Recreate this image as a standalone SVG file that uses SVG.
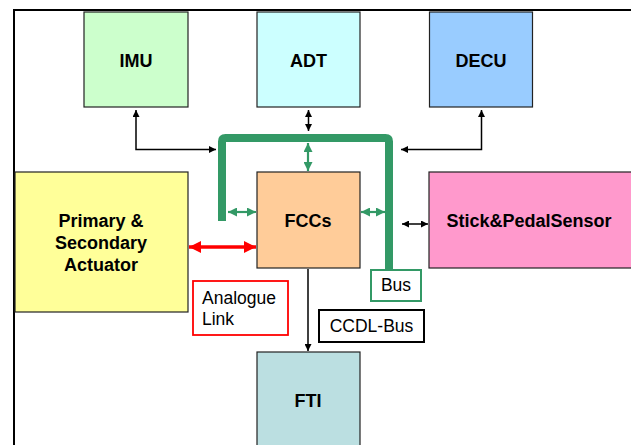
<svg xmlns="http://www.w3.org/2000/svg" width="631" height="445" viewBox="0 0 631 445">
<style>
.box{stroke:#222;stroke-width:1.2}
.lbl{font-family:"Liberation Sans",Arial,sans-serif;font-size:18px;font-weight:bold;fill:#000;text-anchor:middle}
.note{font-family:"Liberation Sans",Arial,sans-serif;font-size:17.5px;fill:#000}
.blk{stroke:#000;stroke-width:1.5;fill:none}
.grn{stroke:#339966;stroke-width:2.2;fill:none}
</style>
<defs>
<marker id="ab" viewBox="0 0 10 10" refX="10" refY="5" markerWidth="7" markerHeight="7" markerUnits="userSpaceOnUse" orient="auto-start-reverse"><path d="M0,0 L10,5 L0,10 Z" fill="#000"/></marker>
<marker id="ag" viewBox="0 0 10 10" refX="10" refY="5" markerWidth="9" markerHeight="9" markerUnits="userSpaceOnUse" orient="auto-start-reverse"><path d="M0,0 L10,5 L0,10 Z" fill="#339966"/></marker>
<marker id="ar" viewBox="0 0 10 10" refX="10" refY="5" markerWidth="12" markerHeight="12" markerUnits="userSpaceOnUse" orient="auto-start-reverse"><path d="M0,0 L10,5 L0,10 Z" fill="#ff0000"/></marker>
</defs>
<rect width="631" height="445" fill="#fff"/>
<path d="M14,445 V10 H631" stroke="#000" stroke-width="2" fill="none"/>

<g id="IMU"><rect class="box" x="84" y="12" width="104" height="95" fill="#ccffcc"/><text class="lbl" x="136" y="67">IMU</text></g>
<g id="ADT"><rect class="box" x="257" y="12" width="103" height="95" fill="#ccffff"/><text class="lbl" x="308.5" y="67">ADT</text></g>
<g id="DECU"><rect class="box" x="429.5" y="12" width="103" height="95" fill="#99ccff"/><text class="lbl" x="481" y="67">DECU</text></g>
<g id="Actuator"><rect class="box" x="15" y="172" width="173" height="140" fill="#ffff99"/><text class="lbl" x="101" y="227">Primary &amp;</text><text class="lbl" x="101" y="249">Secondary</text><text class="lbl" x="101" y="271">Actuator</text></g>
<g id="FCCs"><rect class="box" x="257" y="172" width="103" height="96" fill="#ffcc99"/><text class="lbl" x="308" y="227">FCCs</text></g>
<g id="Sensor"><rect class="box" x="429" y="172" width="203" height="96" fill="#ff99cc"/><text class="lbl" x="529" y="227">Stick&amp;PedalSensor</text></g>
<g id="FTI"><rect class="box" x="257" y="352" width="103" height="100" fill="#bbdfe1"/><text class="lbl" x="308" y="407">FTI</text></g>

<g id="BusLabel"><rect x="371" y="270" width="50" height="31" fill="#fff" stroke="#339966" stroke-width="2"/><text class="note" x="396" y="291" text-anchor="middle">Bus</text></g>
<g id="CCDLLabel"><rect x="319" y="310" width="105" height="32" fill="#fff" stroke="#000" stroke-width="2"/><text class="note" x="371.5" y="332" text-anchor="middle">CCDL-Bus</text></g>
<g id="AnalogueLabel"><rect x="193" y="281" width="95" height="54" fill="#fff" stroke="#ff0000" stroke-width="1.8"/><text class="note" x="202" y="304">Analogue</text><text class="note" x="202" y="325">Link</text></g>

<g id="connectors">
<path d="M222,221 V141.5 Q222,138 225.5,138 H385.5 Q389,138 389,141.5 V271" stroke="#339966" stroke-width="8" fill="none"/>
<path class="blk" d="M136,110 V149.5 H216" marker-start="url(#ab)" marker-end="url(#ab)"/>
<path class="blk" d="M308.5,110 V131" marker-start="url(#ab)" marker-end="url(#ab)"/>
<path class="blk" d="M481.5,110 V149.5 H401" marker-start="url(#ab)" marker-end="url(#ab)"/>
<path class="blk" d="M402,224 H428" marker-start="url(#ab)" marker-end="url(#ab)"/>
<path class="blk" d="M308,269 V351" marker-end="url(#ab)"/>
<path class="grn" d="M308,143 V171" marker-start="url(#ag)" marker-end="url(#ag)"/>
<path class="grn" d="M228,212 H256" marker-start="url(#ag)" marker-end="url(#ag)"/>
<path class="grn" d="M361,212 H385" marker-start="url(#ag)" marker-end="url(#ag)"/>
<path d="M189,247 H256" stroke="#ff0000" stroke-width="3.5" fill="none" marker-start="url(#ar)" marker-end="url(#ar)"/>
</g>
</svg>
